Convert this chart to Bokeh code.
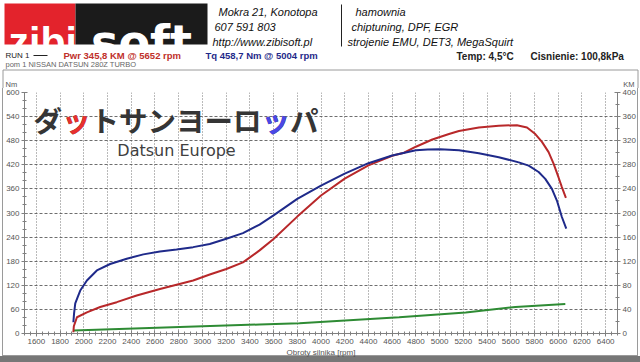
from bokeh.plotting import figure
from bokeh.layouts import column
from bokeh.models import Range1d, LinearAxis, FixedTicker, Label, BoxAnnotation
from bokeh.embed import file_html
from bokeh.resources import INLINE

# ---- data ----
rpm_tq = [1912, 1918, 1928, 1950, 1970, 2026, 2110, 2222, 2362, 2502, 2642, 2782,
          2922, 3062, 3202, 3342, 3482, 3600, 3800, 4000, 4200, 4400, 4600, 4800,
          4900, 5004, 5163, 5331, 5499, 5667, 5751, 5835, 5891, 5947, 5989, 6031, 6068]
tq_nm = [28, 50, 75, 92, 107, 132, 157, 173, 186, 197, 204, 209,
         215, 223, 236, 250, 271, 294, 335, 368, 398, 424, 443, 456,
         458, 458.7, 456, 449, 439, 426, 418, 402, 385, 360, 331, 290, 261]

rpm_pwr = [1912, 1916, 1930, 1942, 2026, 2138, 2278, 2446, 2642, 2782, 2922, 3062,
           3202, 3342, 3482, 3600, 3800, 4000, 4200, 4400, 4600, 4700, 4800, 4939,
           5079, 5163, 5331, 5499, 5652, 5737, 5807, 5863, 5919, 5961, 6003, 6031, 6065]
pwr_km = [2, 12, 20, 27, 35, 44, 52, 63, 74, 81, 88, 98,
          107, 118, 138, 157, 194, 229, 257, 279, 295, 300, 310, 322,
          331, 336, 342, 345, 345.8, 342, 331, 318, 301, 282, 259, 243, 225]

rpm_loss = [1912, 3482, 3818, 4659, 5220, 5639, 6060]
loss_km = [5, 15, 17, 27, 35, 44, 49]

x_ticks = list(range(1600, 6401, 200))
x_minor = list(range(1500, 6501, 50))
yl_ticks = list(range(0, 601, 60))
yl_minor = list(range(0, 601, 20))
yr_ticks = list(range(0, 401, 40))
yr_minor = list(range(0, 401, 20))

SANS = "Liberation Sans"
W = 640
HEAD_H = 88
MAIN_H = 362 - HEAD_H

# ================= header (page pixels as coordinates) =================
h = figure(width=W, height=HEAD_H, x_range=Range1d(0, W), y_range=Range1d(HEAD_H, 0),
           x_axis_type=None, y_axis_type=None, output_backend="svg",
           toolbar_location=None, min_border=0, outline_line_color=None,
           background_fill_color="white", border_fill_color="white")
h.frame_align = False
h.grid.visible = False


def hbox(l, r, t, b, fill, line=None, lw=1):
    h.add_layout(BoxAnnotation(left=l, right=r, top=t, bottom=b,
                               fill_color=fill, fill_alpha=1 if fill else 0,
                               line_color=line, line_width=lw, line_alpha=1 if line else 0))


def hlab(x, y, text, size, color="#111111", font=SANS, style="normal",
         align="left", baseline="middle"):
    h.add_layout(Label(x=x, y=y, text=text, text_font=font, text_font_size=size,
                       text_font_style=style, text_color=color,
                       text_align=align, text_baseline=baseline))


# top part of the chart frame
hbox(2.5, 637.5, 69.5, 200, None, line="#9a9a9a")

# logo
hbox(4, 75, 3, 44, "#e3232c")
hbox(75, 207, 3, 44, "#1b1b1b")
hlab(8, 41, "zibi", "41px", color="white", style="bold", baseline="alphabetic")
hlab(141, 41, "soft", "46px", color="white", font="DejaVu Sans", style="bold",
     align="center", baseline="alphabetic")

# address / services
hlab(218, 11, "Mokra 21, Konotopa", "11px", style="italic")
hlab(214, 26, "607 591 803", "11px", style="italic")
hlab(212, 41, "http://www.zibisoft.pl", "11px", style="italic")
hbox(340.5, 341.5, 4, 46, "#222222")
hlab(355, 11, "hamownia", "11px", style="italic")
hlab(351, 26, "chiptuning, DPF, EGR", "11px", style="italic")
hlab(347, 41, "strojenie EMU, DET3, MegaSquirt", "11px", style="italic")

# run line
hlab(5, 55, "RUN 1", "8px", color="#222222")
hbox(33, 47, 54.5, 55.5, "#222222")
hlab(63, 55, "Pwr  345,8 KM @ 5652 rpm", "9.5px", color="#c0302a", style="bold")
hlab(205, 55, "Tq 458,7 Nm @ 5004 rpm", "9.5px", color="#1f2a8a", style="bold")
hlab(456, 56, "Temp: 4,5°C", "10px", color="#222222", style="bold")
hlab(530, 56, "Cisnienie: 100,8kPa", "10px", color="#222222", style="bold")
hlab(5, 64, "pom 1 NISSAN DATSUN 280Z TURBO", "7.5px", color="#666666")

# axis unit captions
hlab(5, 84, "Nm", "7.5px", color="#555555")
hlab(634, 84, "KM", "7.5px", color="#555555", align="right")

# ================= main chart =================
FL = 24
FR = W - 617
FT = 92 - HEAD_H
FB = MAIN_H - (333 - HEAD_H)

p = figure(width=W, height=MAIN_H, x_range=Range1d(1500, 6500), y_range=Range1d(0, 600),
           output_backend="svg", toolbar_location=None,
           min_border_left=FL, min_border_right=FR, min_border_top=FT, min_border_bottom=FB,
           background_fill_color="white", border_fill_color=None,
           outline_line_color=None)
p.frame_align = False
p.styles = {"box-shadow": ", ".join([
    "inset 0 -6px 0 #777777",
    "inset 2px 0 0 #ffffff",
    "inset -2px 0 0 #ffffff",
    "inset 0 -7px 0 #9a9a9a",
    "inset 3px 0 0 #9a9a9a",
    "inset -3px 0 0 #9a9a9a",
])}
p.extra_y_ranges = {"km": Range1d(0, 400)}
right = LinearAxis(y_range_name="km")
p.add_layout(right, "right")

p.xaxis[0].ticker = FixedTicker(ticks=x_ticks, minor_ticks=x_minor)
p.yaxis[0].ticker = FixedTicker(ticks=yl_ticks, minor_ticks=yl_minor)
right.ticker = FixedTicker(ticks=yr_ticks, minor_ticks=yr_minor)

for ax in [p.xaxis[0], p.yaxis[0], right]:
    ax.axis_line_color = "#808080"
    ax.major_tick_line_color = "#808080"
    ax.minor_tick_line_color = "#808080"
    ax.major_tick_out = 3
    ax.major_tick_in = 3
    ax.minor_tick_out = 2
    ax.minor_tick_in = 2
    ax.major_label_text_font = SANS
    ax.major_label_text_font_size = "8px"
    ax.major_label_text_color = "#555555"
    ax.major_label_standoff = 2

p.xaxis[0].axis_label = "Obroty silnika [rpm]"
p.xaxis[0].axis_label_text_font = SANS
p.xaxis[0].axis_label_text_font_size = "8px"
p.xaxis[0].axis_label_text_font_style = "normal"
p.xaxis[0].axis_label_text_color = "#555555"
p.xaxis[0].axis_label_standoff = 1

p.xgrid[0].grid_line_color = "#666666"
p.xgrid[0].grid_line_dash = "1 2"
p.xgrid[0].grid_line_alpha = 0.9
p.ygrid[0].grid_line_color = "#555555"
p.ygrid[0].grid_line_dash = "3 2"
p.ygrid[0].grid_line_alpha = 0.85

# curves
p.line(rpm_loss, loss_km, color="#2e8b34", line_width=2, y_range_name="km")
p.line(rpm_pwr, pwr_km, color="#b8282a", line_width=2, y_range_name="km")
p.line(rpm_tq, tq_nm, color="#1f2a8a", line_width=2)


def sx(px):
    return px - FL


def sy(py):
    return 333 - py


def plab(x, y, text, size, color, font, style="normal", align="left"):
    p.add_layout(Label(x=sx(x), y=sy(y), x_units="screen", y_units="screen",
                       text=text, text_font=font, text_font_size=size,
                       text_font_style=style, text_color=color,
                       text_align=align, text_baseline="middle"))


# watermark
FS = 28.5
X0 = 33
JP = "Noto Sans CJK JP"
plab(X0, 119, "ダットサンヨーロッパ", "%.1fpx" % FS, "#353535", JP, "bold")
plab(X0 + 1 * FS, 119, "ッ", "%.1fpx" % FS, "#e8302e", JP, "bold")
plab(X0 + 8 * FS, 119, "ッ", "%.1fpx" % FS, "#4a48e6", JP, "bold")
plab(176, 150, "Datsun Europe", "16px", "#404040", "DejaVu Sans", align="center")

layout = column(h, p, spacing=0)
open("out.html", "w").write(file_html(layout, INLINE))
